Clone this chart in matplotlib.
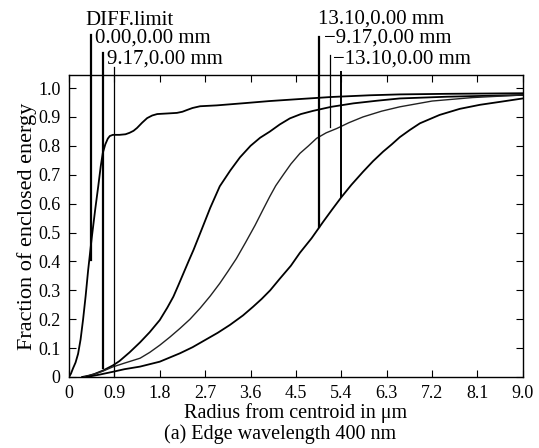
import matplotlib
matplotlib.use('Agg')
import matplotlib.pyplot as plt

plt.rcParams['font.family'] = ['Liberation Serif', 'DejaVu Serif']
plt.rcParams['font.size'] = 13

# Curves: radius (um) and fraction of enclosed energy
diff_x = [0, 0.04, 0.08, 0.13, 0.18, 0.23, 0.28, 0.33, 0.38, 0.45, 0.52, 0.58, 0.63, 0.67,
          0.72, 0.77, 0.81, 0.87, 1.0, 1.12, 1.2, 1.28, 1.35, 1.45, 1.55, 1.65, 1.75, 1.95,
          2.14, 2.25, 2.34, 2.45, 2.6, 2.93, 3.5, 3.98, 4.58, 5.2, 5.97, 6.56, 7.5, 9.0]
diff_y = [0, 0.012, 0.03, 0.05, 0.08, 0.13, 0.20, 0.28, 0.37, 0.48, 0.58, 0.66, 0.73, 0.775,
          0.805, 0.825, 0.834, 0.838, 0.838, 0.84, 0.845, 0.852, 0.862, 0.88, 0.896, 0.905, 0.91, 0.912,
          0.914, 0.918, 0.924, 0.931, 0.937, 0.94, 0.948, 0.955, 0.962, 0.969, 0.975, 0.978, 0.98, 0.982]

f000_x = [0.26, 0.4, 0.5, 0.67, 0.87, 1.0, 1.2, 1.41, 1.6, 1.8, 1.95, 2.07, 2.17, 2.27, 2.37,
          2.47, 2.55, 2.63, 2.8, 2.99, 3.2, 3.39, 3.6, 3.79, 3.98, 4.18, 4.38, 4.6, 4.84, 5.2,
          5.64, 6.1, 6.56, 7.5, 9.0]
f000_y = [0, 0.005, 0.01, 0.022, 0.04, 0.055, 0.085, 0.12, 0.155, 0.197, 0.24, 0.278, 0.318, 0.359, 0.40,
          0.44, 0.475, 0.51, 0.585, 0.66, 0.715, 0.76, 0.80, 0.828, 0.849, 0.874, 0.895, 0.91, 0.921, 0.935,
          0.947, 0.956, 0.964, 0.97, 0.976]

f917_x = [0.3, 0.5, 0.67, 0.87, 1.1, 1.41, 1.6, 1.8, 2.0, 2.2, 2.4, 2.6, 2.8, 2.99, 3.15, 3.32,
          3.5, 3.69, 3.85, 3.98, 4.1, 4.25, 4.4, 4.58, 4.75, 4.91, 5.1, 5.31, 5.55, 5.83, 6.2,
          6.56, 7.2, 8.0, 9.0]
f917_y = [0, 0.01, 0.02, 0.035, 0.048, 0.065, 0.085, 0.11, 0.138, 0.168, 0.2, 0.238, 0.28, 0.324, 0.365, 0.41,
          0.465, 0.525, 0.58, 0.624, 0.662, 0.70, 0.737, 0.774, 0.80, 0.826, 0.845, 0.86, 0.88, 0.90, 0.92,
          0.935, 0.955, 0.967, 0.976]

f1310_x = [0.35, 0.6, 0.87, 1.1, 1.41, 1.8, 2.2, 2.45, 2.7, 2.95, 3.19, 3.45, 3.65, 3.82, 3.99,
           4.18, 4.4, 4.58, 4.81, 5.04, 5.22, 5.40, 5.6, 5.83, 6.03, 6.23, 6.4, 6.56, 6.76, 6.96,
           7.35, 7.75, 8.15, 8.54, 9.0]
f1310_y = [0, 0.008, 0.018, 0.027, 0.036, 0.053, 0.082, 0.103, 0.128, 0.153, 0.18, 0.213, 0.243, 0.27, 0.30,
           0.34, 0.385, 0.43, 0.48, 0.537, 0.58, 0.622, 0.665, 0.71, 0.747, 0.78, 0.805, 0.83, 0.855, 0.878,
           0.907, 0.928, 0.942, 0.952, 0.964]

# Label markers: text, line x, line top, line bottom, text x, text y, line width
marker_text = ['DIFF.limit', '0.00,0.00 mm', '9.17,0.00 mm',
               '13.10,0.00 mm', '\u22129.17,0.00 mm', '\u221213.10,0.00 mm']
marker_x = [0.44, 0.67, 0.89, 4.96, 5.17, 5.40]
marker_top = [1.183, 1.121, 1.073, 1.176, 1.114, 1.055]
marker_bottom = [0.405, 0.03, 0.0, 0.52, 0.866, 0.622]
text_x = [0.32, 0.52, 0.75, 4.93, 5.05, 5.23]
text_y = [1.235, 1.172, 1.100, 1.238, 1.172, 1.100]
marker_lw = [1.6, 1.6, 0.9, 1.6, 0.9, 1.4]

xticks = [0, 0.9, 1.8, 2.7, 3.6, 4.5, 5.4, 6.3, 7.2, 8.1, 9.0]
xtick_labels = ['0', '0.9', '1.8', '2.7', '3.6', '4.5', '5.4', '6.3', '7.2', '8.1', '9.0']
yticks = [0, 0.1, 0.2, 0.3, 0.4, 0.5, 0.6, 0.7, 0.8, 0.9, 1.0]
ytick_labels = ['0', '0.1', '0.2', '0.3', '0.4', '0.5', '0.6', '0.7', '0.8', '0.9', '1.0']

fig = plt.figure(figsize=(5.39, 4.48), dpi=100)
ax = fig.add_axes([0.128, 0.1585, 0.842, 0.674])

ax.plot(diff_x, diff_y, color='black', lw=1.3)
ax.plot(f000_x, f000_y, color='black', lw=1.3)
ax.plot(f917_x, f917_y, color='#222222', lw=1.0)
ax.plot(f1310_x, f1310_y, color='black', lw=1.3)

for i in range(len(marker_x)):
    ax.plot([marker_x[i], marker_x[i]], [marker_bottom[i], marker_top[i]],
            color='black', lw=marker_lw[i], clip_on=False)
    ax.text(text_x[i], text_y[i], marker_text[i], ha='left', va='center', fontsize=15)

ax.set_xlim(0, 9.0)
ax.set_ylim(0, 1.045)
ax.set_xticks(xticks)
ax.set_xticklabels(xtick_labels)
ax.set_yticks(yticks)
ax.set_yticklabels(ytick_labels)
ax.tick_params(direction='in', length=5, top=True, right=True, pad=6)
ax.tick_params(axis='y', pad=6)
for s in ax.spines.values():
    s.set_linewidth(1.0)

ax.set_xlabel('Radius from centroid in \u03bcm', fontsize=14.5, labelpad=0.5)
ax.set_ylabel('Fraction of enclosed energy', fontsize=16, labelpad=1)
fig.text(0.52, 0.031, '(a) Edge wavelength 400 nm', ha='center', va='center', fontsize=14.5)

fig.savefig('out.png', dpi=100)
